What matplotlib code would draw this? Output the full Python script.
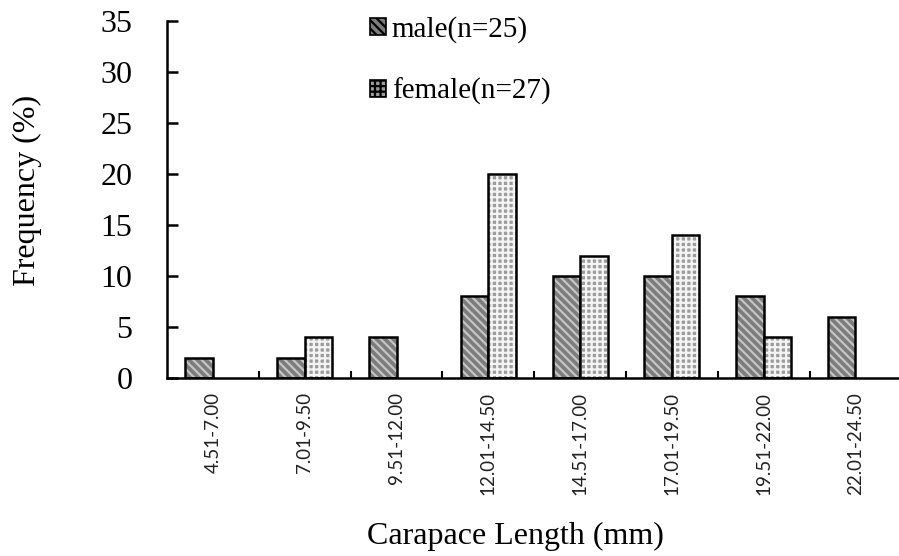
import matplotlib
matplotlib.use("Agg")
import matplotlib.pyplot as plt
import numpy as np
from matplotlib.patches import Patch

categories = ["4.51-7.00", "7.01-9.50", "9.51-12.00", "12.01-14.50",
              "14.51-17.00", "17.01-19.50", "19.51-22.00", "22.01-24.50"]
male = [2, 2, 4, 8, 10, 10, 8, 6]
female = [0, 4, 0, 20, 12, 14, 4, 0]
yticks = [0, 5, 10, 15, 20, 25, 30, 35]

plt.rcParams["hatch.linewidth"] = 1.6
serif = ["Liberation Serif", "DejaVu Serif"]
fig = plt.figure(figsize=(8.99, 5.56), dpi=100)
ax = fig.add_axes([167/899, (556-378)/556, (899-167)/899, (378-21)/556])

x = np.arange(len(categories))
w = 0.3
male_fc, male_hc = "#7c7c7c", "#c4c4c4"
fem_fc, fem_hc = "#9c9c9c", "#f4f4f4"

# hatched fills
for xi, v in zip(x, male):
    if v > 0:
        ax.bar(xi - w/2, v, w, facecolor=male_fc, edgecolor=male_hc, hatch="\\\\\\\\", linewidth=0)
        ax.bar(xi - w/2, v, w, fill=False, edgecolor="black", linewidth=1.8)
for xi, v in zip(x, female):
    if v > 0:
        ax.bar(xi + w/2, v, w, facecolor=fem_fc, edgecolor=fem_hc, hatch="+++", linewidth=0)
        ax.bar(xi + w/2, v, w, fill=False, edgecolor="black", linewidth=1.8)

ax.set_xlim(-0.5, -0.5 + (899 - 167) / 91.8)
ax.set_ylim(0, 35)
ax.set_yticks(yticks)
ax.set_yticklabels([str(t) for t in yticks], fontfamily=serif, fontsize=23)
ax.set_xticks(x[:-1] + 0.5)
ax.set_xticklabels([])
ax.set_xticks(x, minor=True)
ax.set_xticklabels(categories, minor=True, rotation=90, fontfamily=["Lato", "DejaVu Sans"],
                   fontsize=13.5, color="#222222", va="top")
ax.tick_params(axis="x", which="minor", length=0, pad=10)
ax.tick_params(axis="x", which="major", direction="in", length=5, width=1.5)
ax.tick_params(axis="y", direction="in", length=8, width=1.8, pad=25)

for s in ["top", "right"]:
    ax.spines[s].set_visible(False)
for s in ["left", "bottom"]:
    ax.spines[s].set_linewidth(1.8)

fig.text(515/899, 1 - 536/556, "Carapace Length (mm)", ha="center", va="center",
         fontfamily=serif, fontsize=23)
fig.text(27/899, 1 - 190/556, "Frequency (%)", ha="center", va="center",
         rotation=90, fontfamily=serif, fontsize=23)

handles = [Patch(facecolor=male_fc, edgecolor="black", hatch="\\\\\\\\", linewidth=1.2),
           Patch(facecolor=fem_fc, edgecolor="black", hatch="+++", linewidth=1.2)]
leg = fig.legend(handles, ["male(n=25)", "female(n=27)"], loc="upper left",
                 bbox_to_anchor=(370/899, 1 - 16/556), frameon=False,
                 prop={"family": serif, "size": 21}, handlelength=0.55, handleheight=0.55,
                 handletextpad=0.2, labelspacing=1.2, borderaxespad=0, borderpad=0)

fig.savefig("out.png", dpi=100)
